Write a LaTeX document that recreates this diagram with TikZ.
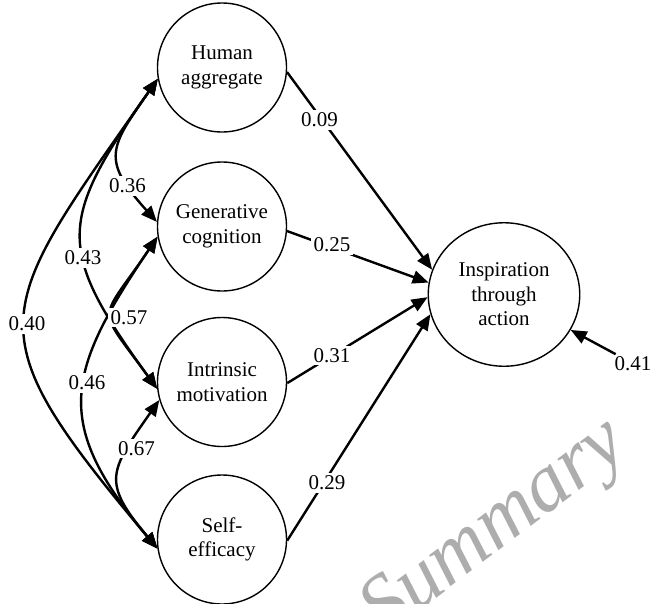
\documentclass[tikz,border=0pt]{standalone}
\usepackage{fontspec}
\setmainfont{Liberation Serif}
\usetikzlibrary{arrows.meta,shapes.geometric}
\begin{document}
\begin{tikzpicture}[x=1pt,y=1pt,
  txt/.style={font=\fontsize{21}{24.5}\selectfont},
  lat/.style={txt, circle, draw, line width=1.4pt, minimum size=129pt, inner sep=0pt, align=center},
  endo/.style={txt, ellipse, draw, line width=1.4pt, minimum width=151.5pt, minimum height=143.5pt, inner sep=0pt, align=center},
  lbl/.style={txt, fill=white, inner sep=2.5pt},
  conn/.style={line width=2.4pt, -{Triangle[length=16pt,width=13pt]}},
  corr/.style={line width=2.4pt, {Triangle[length=16pt,width=13pt]}-{Triangle[length=16pt,width=13pt]}},
  wmark/.style={font=\fontsize{82}{82}\selectfont\itshape, text=black!32}
]
\useasboundingbox (0,0) rectangle (651,-603);
\fill[white] (0,0) rectangle (651,-603);

% watermark
\begin{scope}
\clip (0,0) rectangle (651,-603);
\node[wmark, rotate=37] (wm) at (496,-530) {Summary};
\end{scope}

% latent variables
\node[lat] (H) at (222,-67.5) {Human\\aggregate};
\node[lat] (G) at (222,-226.5) {Generative\\cognition};
\node[lat] (I) at (222,-382) {Intrinsic\\motivation};
\node[lat] (S) at (222,-539.5) {Self-\\efficacy};
\node[endo] (A) at (504,-294.5) {Inspiration\\through\\action};

% residual label
\node[txt, inner sep=2pt] (l41) at (633,-363.5) {0.41};

% paths to outcome
\draw[conn] (H.-4) -- (A.161);
\draw[conn] (G.-4) -- (A.171);
\draw[conn] (I.-1) -- (A.182);
\draw[conn] (S.-1) -- (A.195);
\draw[conn] (l41) -- (A.332);

% correlations
\draw[corr] (H.190) to[out=235,in=132,looseness=1.5] (G.176);
\draw[corr] (H.190) to[out=235,in=126,looseness=1.43] (I.186);
\draw[corr] (H.190) to[out=235,in=130,looseness=1.58] (S.188);
\draw[corr] (G.189) to[out=236,in=126,looseness=1.78] (I.186);
\draw[corr] (G.189) to[out=236,in=130,looseness=1.35] (S.188);
\draw[corr] (I.196) to[out=235,in=130,looseness=1.5] (S.188);

% coefficient labels
\node[lbl] (l09) at (319.5,-120) {0.09};
\node[lbl] (l25) at (332,-245) {0.25};
\node[lbl] (l31) at (332,-355.5) {0.31};
\node[lbl] (l29) at (327,-483) {0.29};
\node[lbl] (l36) at (127.5,-186) {0.36};
\node[lbl] (l43) at (83,-258) {0.43};
\node[lbl] (l40) at (27,-324) {0.40};
\node[lbl] (l57) at (129,-317.5) {0.57};
\node[lbl] (l46) at (87,-383) {0.46};
\node[lbl] (l67) at (136.5,-448.5) {0.67};
\end{tikzpicture}
\end{document}
